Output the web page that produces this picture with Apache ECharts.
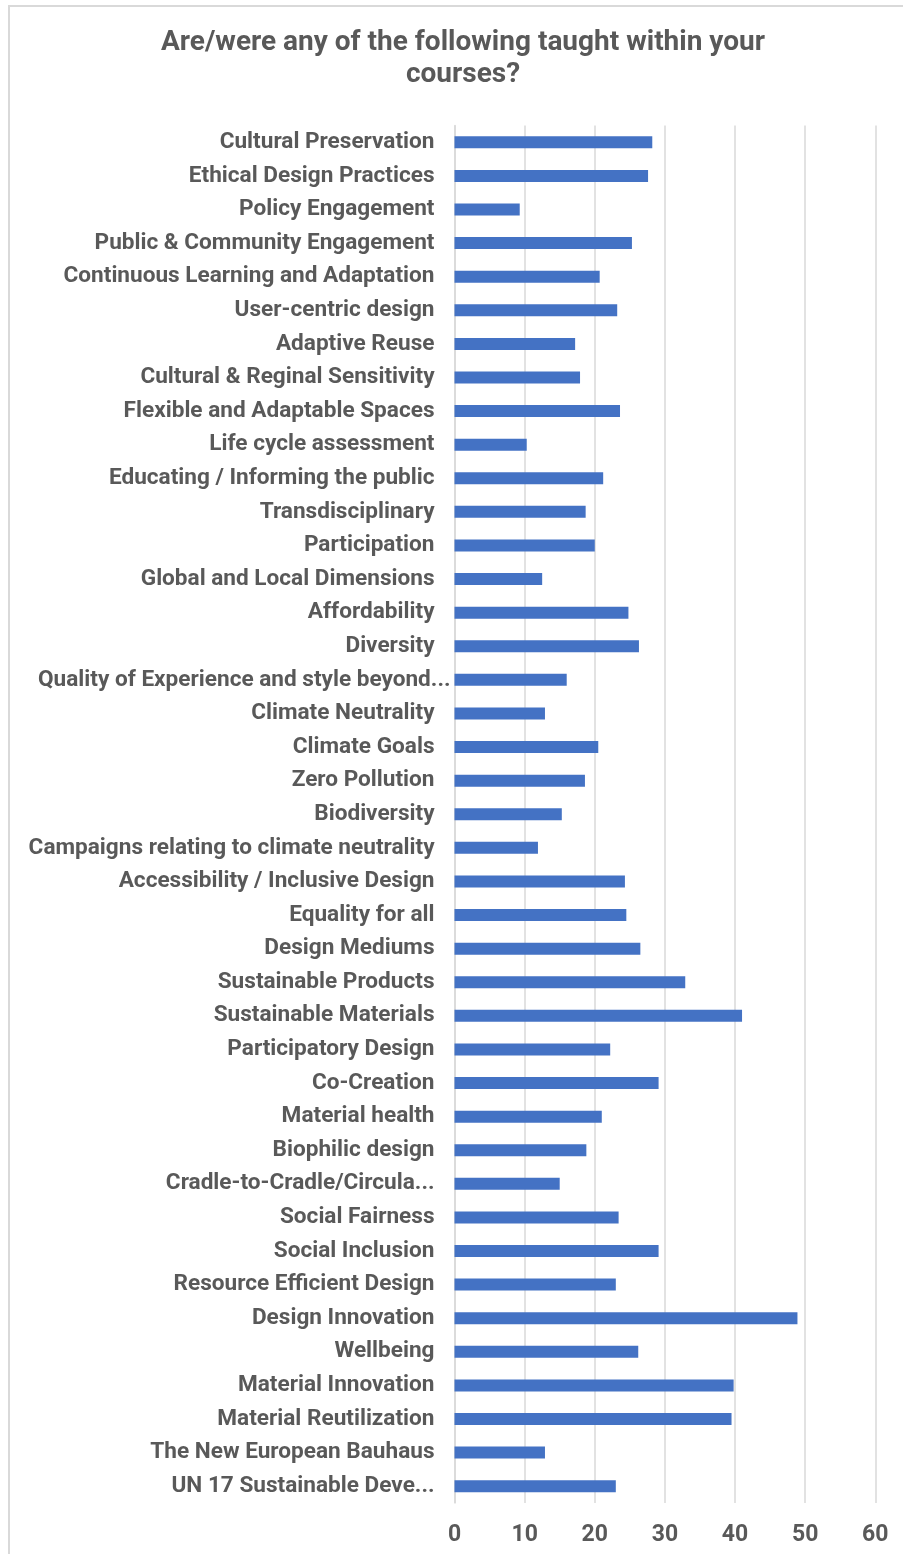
<!DOCTYPE html>
<html>
<head>
<meta charset="utf-8">
<style>
html,body{margin:0;padding:0;background:#fff;}
#chart{width:903px;height:1554px;}
</style>
<script src="https://cdn.jsdelivr.net/npm/echarts@6/dist/echarts.min.js"></script>
</head>
<body>
<div id="chart"></div>
<script>
var titleText = "Are/were any of the following taught within your\ncourses?";

var categories = [
  "Cultural Preservation",
  "Ethical Design Practices",
  "Policy Engagement",
  "Public & Community Engagement",
  "Continuous Learning and Adaptation",
  "User-centric design",
  "Adaptive Reuse",
  "Cultural & Reginal Sensitivity",
  "Flexible and Adaptable Spaces",
  "Life cycle assessment",
  "Educating / Informing the public",
  "Transdisciplinary",
  "Participation",
  "Global and Local Dimensions",
  "Affordability",
  "Diversity",
  "Quality of Experience and style beyond...",
  "Climate Neutrality",
  "Climate Goals",
  "Zero Pollution",
  "Biodiversity",
  "Campaigns relating to climate neutrality",
  "Accessibility / Inclusive Design",
  "Equality for all",
  "Design Mediums",
  "Sustainable Products",
  "Sustainable Materials",
  "Participatory Design",
  "Co-Creation",
  "Material health",
  "Biophilic design",
  "Cradle-to-Cradle/Circula...",
  "Social Fairness",
  "Social Inclusion",
  "Resource Efficient Design",
  "Design Innovation",
  "Wellbeing",
  "Material Innovation",
  "Material Reutilization",
  "The New European Bauhaus",
  "UN 17 Sustainable Deve..."
];

var values = [
  28.2, 27.6, 9.3, 25.3, 20.7, 23.2, 17.2, 17.9, 23.6, 10.3,
  21.2, 18.7, 20.0, 12.5, 24.8, 26.3, 16.0, 12.9, 20.5, 18.6,
  15.3, 11.9, 24.3, 24.5, 26.5, 32.9, 41.0, 22.2, 29.1, 21.0,
  18.8, 15.0, 23.4, 29.1, 23.0, 48.9, 26.2, 39.8, 39.5, 12.9,
  23.0
];

var xMin = 0, xMax = 60, xStep = 10;

var textColor = '#595959';
var gridColor = '#d9d9d9';
var barColor = '#4472C4';
var fontFamily = 'Roboto, "Noto Sans", sans-serif';

var labelFont = {
  fontFamily: fontFamily,
  fontSize: 22.6,
  fontWeight: 'bold',
  color: textColor
};

var chart = echarts.init(document.getElementById('chart'), null, {renderer: 'canvas'});
chart.setOption({
  animation: false,
  backgroundColor: '#ffffff',
  graphic: [{
    type: 'rect',
    silent: true,
    shape: {x: 9, y: 6, width: 1200, height: 2000},
    style: {fill: 'none', stroke: gridColor, lineWidth: 2}
  }],
  title: {
    text: titleText,
    left: 463,
    top: 27.5,
    padding: 0,
    textAlign: 'center',
    textStyle: {
      fontFamily: fontFamily,
      fontSize: 28,
      fontWeight: 'bold',
      color: textColor,
      lineHeight: 31.5
    }
  },
  grid: {
    left: 454.5,
    right: 27.7,
    top: 125.5,
    bottom: 51,
    containLabel: false
  },
  xAxis: {
    type: 'value',
    min: xMin,
    max: xMax,
    interval: xStep,
    axisLine: {show: false},
    axisTick: {show: false},
    splitLine: {show: true, lineStyle: {color: gridColor, width: 1.5}},
    axisLabel: {
      margin: 20.5,
      fontFamily: fontFamily,
      fontSize: 23,
      fontWeight: 'bold',
      color: textColor
    }
  },
  yAxis: {
    type: 'category',
    data: categories,
    inverse: true,
    axisLine: {show: true, lineStyle: {color: gridColor, width: 1.5}},
    axisTick: {show: false},
    splitLine: {show: false},
    axisLabel: {
      margin: 4,
      interval: 0,
      fontFamily: fontFamily,
      fontSize: 22.6,
      fontWeight: 'bold',
      color: textColor,
      formatter: function (v) {
        return /\.\.\.$/.test(v) && v.length > 35 ? '{q|' + v + '}' : '{n|' + v + '}';
      },
      rich: {
        n: Object.assign({padding: [0, 16, 0, 0]}, labelFont),
        q: Object.assign({padding: [0, 0, 0, 0]}, labelFont)
      }
    }
  },
  series: [{
    type: 'bar',
    data: values,
    barWidth: 12,
    itemStyle: {color: barColor},
    silent: true
  }]
});
</script>
</body>
</html>
